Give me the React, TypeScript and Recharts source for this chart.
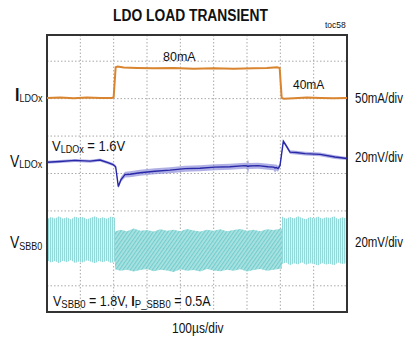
import React from 'react';
import { ComposedChart, XAxis, YAxis, CartesianGrid, Line, Area, ReferenceArea } from 'recharts';

// time axis in divisions (100us/div), vertical axis in screen divisions
const gridX = [1, 2, 3, 4, 5, 6, 7, 8];
const gridY = [0, 1, 2, 3, 4, 5, 6];

// I_LDOx load current step 40mA -> 80mA -> 40mA
const iLdoT = [0, 0.4, 0.8, 1.2, 1.6, 1.95, 2.0, 2.06, 2.12, 2.3, 2.7, 3.2, 3.8, 4.4, 5.0, 5.6, 6.2, 6.6, 6.9, 6.98, 7.04, 7.1, 7.4, 7.8, 8.2, 8.6, 9.0];
const iLdoVal = [5.02, 5.03, 5.01, 5.03, 5.02, 5.02, 5.04, 5.84, 5.86, 5.83, 5.82, 5.81, 5.82, 5.8, 5.81, 5.8, 5.81, 5.82, 5.84, 5.82, 5.02, 5.0, 5.01, 5.03, 5.02, 5.01, 5.02];

// V_LDOx output voltage (trace centre and noise envelope)
const vLdoT = [0, 0.39, 0.84, 1.29, 1.59, 1.83, 1.98, 2.06, 2.14, 2.22, 2.34, 2.49, 2.79, 3.24, 3.69, 4.14, 4.59, 5.04, 5.49, 5.94, 6.0, 6.03, 6.06, 6.33, 6.63, 6.8, 6.84, 6.88, 6.93, 6.99, 7.09, 7.17, 7.29, 7.47, 7.74, 8.19, 8.64, 9.0];
const vLdoMid = [3.30, 3.32, 3.35, 3.33, 3.36, 3.29, 3.24, 3.18, 2.65, 2.84, 2.97, 2.98, 3.02, 3.06, 3.09, 3.13, 3.14, 3.17, 3.18, 3.21, 3.20, 3.19, 3.20, 3.21, 3.18, 3.17, 3.15, 3.16, 3.13, 3.21, 3.86, 3.75, 3.57, 3.56, 3.53, 3.51, 3.44, 3.40];
const vLdoHigh = [3.34, 3.36, 3.39, 3.37, 3.40, 3.33, 3.28, 3.23, 2.70, 2.91, 3.05, 3.06, 3.10, 3.14, 3.17, 3.21, 3.22, 3.25, 3.26, 3.29, 3.28, 3.38, 3.28, 3.29, 3.26, 3.25, 3.24, 3.24, 3.21, 3.27, 3.90, 3.80, 3.62, 3.61, 3.58, 3.56, 3.49, 3.44];
const vLdoLow = [3.26, 3.28, 3.31, 3.29, 3.32, 3.25, 3.20, 3.13, 2.60, 2.77, 2.89, 2.90, 2.94, 2.98, 3.01, 3.05, 3.06, 3.09, 3.10, 3.13, 3.12, 3.00, 3.12, 3.13, 3.10, 3.09, 3.02, 3.08, 3.05, 3.15, 3.82, 3.70, 3.52, 3.51, 3.48, 3.46, 3.39, 3.36];

// V_SBB0 ripple envelope: light load / loaded / light load
const sbbLightT1 = [0, 0.12, 0.24, 0.36, 0.48, 0.6, 0.72, 0.84, 0.96, 1.08, 1.2, 1.32, 1.44, 1.56, 1.68, 1.8, 1.92, 2.04];
const sbbLightHi1 = [1.78, 1.84, 1.80, 1.86, 1.79, 1.83, 1.77, 1.85, 1.81, 1.84, 1.78, 1.82, 1.86, 1.80, 1.83, 1.79, 1.85, 1.81];
const sbbLightLo1 = [0.68, 0.62, 0.66, 0.60, 0.67, 0.63, 0.69, 0.61, 0.65, 0.62, 0.68, 0.64, 0.60, 0.66, 0.63, 0.67, 0.61, 0.65];
const sbbLoadT = [2.04, 2.2, 2.4, 2.6, 2.8, 3.0, 3.2, 3.4, 3.6, 3.8, 4.0, 4.2, 4.4, 4.6, 4.8, 5.0, 5.2, 5.4, 5.6, 5.8, 6.0, 6.2, 6.4, 6.6, 6.8, 7.05];
const sbbLoadHi = [1.45, 1.50, 1.46, 1.53, 1.47, 1.49, 1.45, 1.51, 1.47, 1.50, 1.46, 1.52, 1.48, 1.45, 1.50, 1.47, 1.51, 1.46, 1.49, 1.52, 1.47, 1.50, 1.46, 1.51, 1.49, 1.53];
const sbbLoadLo = [0.44, 0.40, 0.43, 0.38, 0.42, 0.45, 0.39, 0.43, 0.41, 0.37, 0.44, 0.40, 0.42, 0.38, 0.45, 0.41, 0.39, 0.43, 0.40, 0.44, 0.38, 0.42, 0.45, 0.40, 0.43, 0.46];
const sbbLightT2 = [7.05, 7.17, 7.29, 7.41, 7.53, 7.65, 7.77, 7.89, 8.01, 8.13, 8.25, 8.37, 8.49, 8.61, 8.73, 8.85, 9.0];
const sbbLightHi2 = [1.85, 1.79, 1.84, 1.80, 1.86, 1.81, 1.78, 1.84, 1.80, 1.85, 1.79, 1.83, 1.81, 1.86, 1.78, 1.83, 1.80];
const sbbLightLo2 = [0.58, 0.62, 0.55, 0.60, 0.57, 0.63, 0.56, 0.60, 0.58, 0.54, 0.61, 0.57, 0.59, 0.55, 0.62, 0.58, 0.60];

const iLdoData = iLdoT.map((x, i) => ({ x, v: iLdoVal[i] }));
const vLdoData = vLdoT.map((x, i) => ({ x, v: vLdoMid[i], band: [vLdoLow[i], vLdoHigh[i]] }));
const sbbLight1 = sbbLightT1.map((x, i) => ({ x, band: [sbbLightLo1[i], sbbLightHi1[i]] }));
const sbbLoad = sbbLoadT.map((x, i) => ({ x, band: [sbbLoadLo[i], sbbLoadHi[i]] }));
const sbbLight2 = sbbLightT2.map((x, i) => ({ x, band: [sbbLightLo2[i], sbbLightHi2[i]] }));

const FONT = '"Liberation Sans", Arial, sans-serif';

// narrow-looking text: small font stretched vertically
const T = ({ x, y, size, sy = 1, len, bold, children }: any) => (
  <g transform={`translate(${x},${y}) scale(1,${sy})`}>
    <text x={0} y={0} fontSize={size} fontWeight={bold ? 'bold' : 'normal'} textLength={len}
      lengthAdjust={len ? 'spacingAndGlyphs' : undefined} fill="#111">{children}</text>
  </g>
);

const Labels = () => (
  <svg width={405} height={339} style={{ position: 'absolute', left: 0, top: 0, pointerEvents: 'none', fontFamily: FONT }}>
    <T x={113} y={21} size={16} len={155} bold>LDO LOAD TRANSIENT</T>
    <T x={325} y={28} size={8.5}>toc58</T>
    <T x={163} y={61} size={12.5} sy={1.05}>80mA</T>
    <T x={293} y={89} size={12} sy={1.05}>40mA</T>

    <T x={15} y={100.7} size={16} sy={1.2}>
      <tspan fontWeight="bold">I</tspan><tspan fontSize={9} dy={0.8}>LDOx</tspan>
    </T>
    <T x={10} y={167.3} size={14} sy={1.15}>
      V<tspan fontSize={9} dy={1}>LDOx</tspan>
    </T>
    <T x={10} y={248.3} size={14} sy={1.15}>
      V<tspan fontSize={9} dy={1.5}>SBB0</tspan>
    </T>

    <T x={355} y={102.7} size={11.5} sy={1.22}>50mA/div</T>
    <T x={355} y={161.7} size={11.5} sy={1.22}>20mV/div</T>
    <T x={355} y={247.3} size={11.5} sy={1.22}>20mV/div</T>

    <T x={52} y={150.7} size={13} sy={1.15}>
      V<tspan fontSize={9} dy={2}>LDOx</tspan><tspan dy={-2}> = 1.6V</tspan>
    </T>

    <T x={53} y={306} size={12.5} sy={1.15}>
      V<tspan fontSize={9.5} dy={2}>SBB0</tspan><tspan dy={-2}> = 1.8V, </tspan><tspan fontWeight="bold">I</tspan><tspan fontSize={9.5} dy={2}>P_SBB0</tspan><tspan dy={-2}> = 0.5A</tspan>
    </T>

    <T x={172} y={333.3} size={12} sy={1.15}>100µs/div</T>
  </svg>
);

export default function App() {
  return (
    <div style={{ position: 'absolute', left: 0, top: 0, width: 405, height: 339, background: '#fff' }}>
      <ComposedChart width={405} height={339} margin={{ top: 35, right: 58, bottom: 27, left: 47 }}>
        <defs>
          <pattern id="ripple" patternUnits="userSpaceOnUse" width={2} height={4}>
            <rect width={2} height={4} fill="#d4f1f1" />
            <rect width={1} height={4} fill="#8ad6d6" />
          </pattern>
          <pattern id="loaded" patternUnits="userSpaceOnUse" width={3} height={4} patternTransform="rotate(35)">
            <rect width={3} height={4} fill="#a4e0e0" />
            <rect width={1.2} height={4} fill="#68c9c9" />
          </pattern>
        </defs>
        <XAxis type="number" dataKey="x" domain={[0, 9]} ticks={gridX} hide allowDuplicatedCategory={false} />
        <YAxis type="number" domain={[-0.7, 6.7]} ticks={gridY} hide />
        <CartesianGrid stroke="#a9a9a9" strokeDasharray="1.5 2" horizontalValues={gridY} verticalValues={gridX} />
        <Area data={sbbLight1} dataKey="band" type="linear" stroke="none" fill="url(#ripple)" fillOpacity={0.92} isAnimationActive={false} />
        <Area data={sbbLoad} dataKey="band" type="linear" stroke="none" fill="url(#loaded)" fillOpacity={0.92} isAnimationActive={false} />
        <Area data={sbbLight2} dataKey="band" type="linear" stroke="none" fill="url(#ripple)" fillOpacity={0.92} isAnimationActive={false} />
        <Area data={vLdoData} dataKey="band" type="linear" stroke="none" fill="#7b7bd3" fillOpacity={0.6} isAnimationActive={false} />
        <Line data={vLdoData} dataKey="v" type="linear" stroke="#2828a8" strokeWidth={1.4} dot={false} isAnimationActive={false} />
        <Line data={iLdoData} dataKey="v" type="linear" stroke="#d9842e" strokeWidth={2} dot={false} isAnimationActive={false} />
        <ReferenceArea x1={0} x2={9} y1={-0.7} y2={6.7} fill="none" stroke="#333" strokeWidth={2} ifOverflow="visible" />
      </ComposedChart>
      <Labels />
    </div>
  );
}
